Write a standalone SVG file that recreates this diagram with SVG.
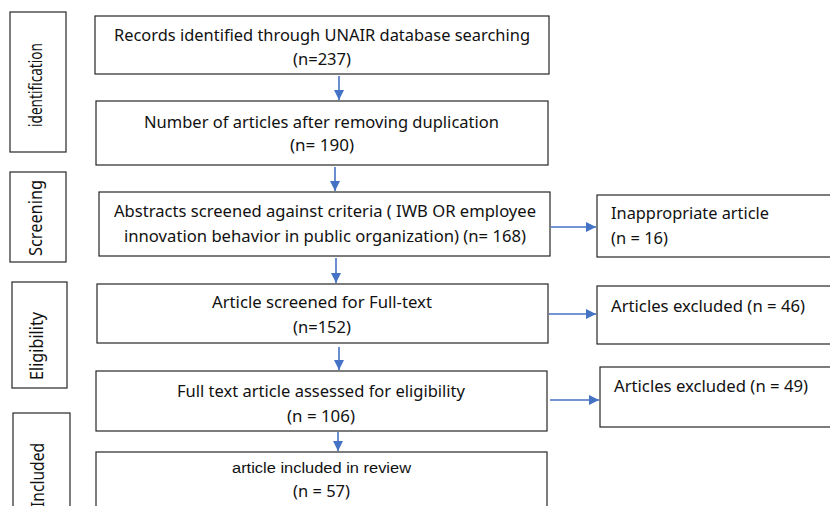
<svg xmlns="http://www.w3.org/2000/svg" width="830" height="506" viewBox="0 0 830 506">
<style>
.box{fill:#fff;stroke:#262626;stroke-width:1.2}
.t{font-family:"Noto Sans","Open Sans",sans-serif;font-size:17px;fill:#111}
.s{font-family:"Noto Sans","Open Sans",sans-serif;font-size:17.5px;fill:#111}
.a{font-family:"Liberation Sans",Arial,sans-serif;font-size:15.5px;fill:#111}
.c{stroke:#4472C4;stroke-width:1.6;fill:none;marker-end:url(#ah)}
</style>
<defs>
<marker id="ah" viewBox="0 0 10 10" refX="10" refY="5" markerWidth="10" markerHeight="10" markerUnits="userSpaceOnUse" orient="auto">
<path d="M0,0 L10,5 L0,10 z" fill="#4472C4"/>
</marker>
</defs>
<rect width="830" height="506" fill="#fff"/>
<g id="stage-identification">
<rect class="box" x="10" y="12" width="56" height="140"/>
<text class="s" transform="translate(42,127) rotate(-90)" textLength="84" lengthAdjust="spacingAndGlyphs">identification</text>
</g>
<g id="stage-screening">
<rect class="box" x="10" y="172" width="56" height="90"/>
<text class="s" transform="translate(42,256) rotate(-90)" textLength="76" lengthAdjust="spacingAndGlyphs">Screening</text>
</g>
<g id="stage-eligibility">
<rect class="box" x="12" y="282" width="55" height="106"/>
<text class="s" transform="translate(43,380) rotate(-90)" textLength="68" lengthAdjust="spacingAndGlyphs">Eligibility</text>
</g>
<g id="stage-included">
<rect class="box" x="13" y="413" width="57" height="110"/>
<text class="s" transform="translate(44,507) rotate(-90)" textLength="64" lengthAdjust="spacingAndGlyphs">Included</text>
</g>
<g id="records">
<rect class="box" x="95" y="16" width="454" height="58"/>
<text class="t" x="114" y="41" textLength="416" lengthAdjust="spacingAndGlyphs">Records identified through UNAIR database searching</text>
<text class="t" x="293" y="65" textLength="58" lengthAdjust="spacingAndGlyphs">(n=237)</text>
</g>
<g id="dedup">
<rect class="box" x="96" y="101" width="452" height="64"/>
<text class="t" x="144" y="128" textLength="355" lengthAdjust="spacingAndGlyphs">Number of articles after removing duplication</text>
<text class="t" x="290" y="151" textLength="64" lengthAdjust="spacingAndGlyphs">(n= 190)</text>
</g>
<g id="abstracts">
<rect class="box" x="99" y="192" width="451" height="64"/>
<text class="t" x="114" y="217" textLength="422" lengthAdjust="spacingAndGlyphs">Abstracts screened against criteria ( IWB OR employee</text>
<text class="t" x="124" y="242" textLength="402" lengthAdjust="spacingAndGlyphs">innovation behavior in public organization) (n= 168)</text>
</g>
<g id="fulltext-screen">
<rect class="box" x="97" y="284" width="451" height="59"/>
<text class="t" x="212" y="308" textLength="220" lengthAdjust="spacingAndGlyphs">Article screened for Full-text</text>
<text class="t" x="293" y="333" textLength="58" lengthAdjust="spacingAndGlyphs">(n=152)</text>
</g>
<g id="eligibility-assess">
<rect class="box" x="96" y="371" width="451" height="60"/>
<text class="t" x="177" y="397" textLength="288" lengthAdjust="spacingAndGlyphs">Full text article assessed for eligibility</text>
<text class="t" x="287" y="422" textLength="68" lengthAdjust="spacingAndGlyphs">(n = 106)</text>
</g>
<g id="included">
<rect class="box" x="96" y="452" width="451" height="70"/>
<text class="a" x="232" y="473" textLength="179" lengthAdjust="spacingAndGlyphs">article included in review</text>
<text class="t" x="293" y="497" textLength="57" lengthAdjust="spacingAndGlyphs">(n = 57)</text>
</g>
<g id="inappropriate">
<rect class="box" x="597" y="195" width="250" height="62"/>
<text class="t" x="611" y="219" textLength="158" lengthAdjust="spacingAndGlyphs">Inappropriate article</text>
<text class="t" x="611" y="244" textLength="57" lengthAdjust="spacingAndGlyphs">(n = 16)</text>
</g>
<g id="excluded-46">
<rect class="box" x="597" y="286" width="250" height="58"/>
<text class="t" x="611" y="312" textLength="194" lengthAdjust="spacingAndGlyphs">Articles excluded (n = 46)</text>
</g>
<g id="excluded-49">
<rect class="box" x="600" y="367" width="250" height="60"/>
<text class="t" x="614" y="392" textLength="194" lengthAdjust="spacingAndGlyphs">Articles excluded (n = 49)</text>
</g>
<g id="connectors">
<path class="c" d="M339,76 V100"/>
<path class="c" d="M335,167 V191"/>
<path class="c" d="M336,258 V283"/>
<path class="c" d="M339,347 V370"/>
<path class="c" d="M338,432 V451"/>
<path class="c" d="M551,227 H596"/>
<path class="c" d="M549,314 H596"/>
<path class="c" d="M550,400 H599"/>
</g>
</svg>
